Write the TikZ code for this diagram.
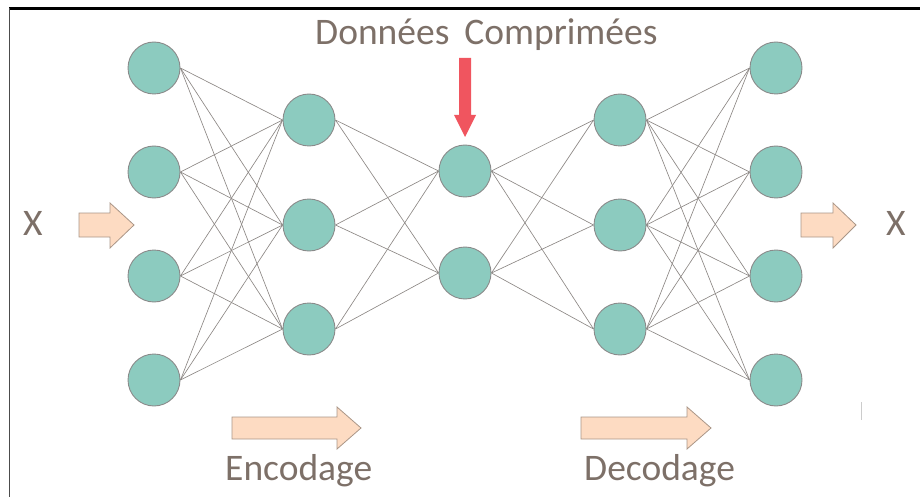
\documentclass[tikz,border=0pt]{standalone}
\usepackage{fontspec}
\setmainfont{Carlito}
\definecolor{neuron}{RGB}{140,203,191}
\definecolor{neuronedge}{RGB}{138,138,138}
\definecolor{wire}{RGB}{140,135,132}
\definecolor{peach}{RGB}{253,219,194}
\definecolor{peachedge}{RGB}{170,150,135}
\definecolor{alert}{RGB}{240,85,95}
\definecolor{label}{RGB}{125,112,104}
\pgfdeclarelayer{wires}
\pgfsetlayers{wires,main}
\tikzset{
  neuronnode/.style={circle, minimum size=52pt, inner sep=0pt, fill=neuron, draw=neuronedge, line width=0.9pt},
  weight/.style={draw=wire, line width=0.65pt},
  flowarrow/.style={fill=peach, draw=peachedge, line width=0.8pt, line join=miter},
  caption/.style={text=label, font=\fontsize{37.5}{42}\selectfont, inner sep=0pt, anchor=base west}
}
\begin{document}
\begin{tikzpicture}[x=1pt, y=-1pt]
\useasboundingbox (0,0) rectangle (920,497);
% frame lines
\draw[black, line width=3pt] (9,8.5) -- (920,8.5);
\draw[black!70, line width=1.2pt] (9.5,8) -- (9.5,497);
\draw[black!20, line width=0.8pt] (861,402) -- (861,420);

% neurons, layer by layer
\foreach \i/\y in {1/68, 2/172, 3/276, 4/380} {
  \node[neuronnode] (a\i) at (154,\y) {};
  \node[neuronnode] (e\i) at (776,\y) {};
}
\foreach \i/\y in {1/120, 2/225, 3/329} {
  \node[neuronnode] (b\i) at (309,\y) {};
  \node[neuronnode] (d\i) at (620,\y) {};
}
\foreach \i/\y in {1/171, 2/273} {
  \node[neuronnode] (c\i) at (465,\y) {};
}

% fully connected weights, kept behind the neurons
\begin{pgfonlayer}{wires}
\foreach \i in {1,...,4} \foreach \j in {1,...,3} {
  \draw[weight] (a\i.east) -- (b\j.west);
  \draw[weight] (d\j.east) -- (e\i.west);
}
\foreach \i in {1,...,3} \foreach \j in {1,2} {
  \draw[weight] (b\i.east) -- (c\j.west);
  \draw[weight] (c\j.east) -- (d\i.west);
}
\end{pgfonlayer}

% block arrows
\draw[flowarrow] (79,213) -- (110,213) -- (110,203) -- (134,225) -- (110,248) -- (110,237) -- (79,237) -- cycle;
\draw[flowarrow] (801,213) -- (833,213) -- (833,203) -- (856,225) -- (833,248) -- (833,237) -- (801,237) -- cycle;
\draw[flowarrow] (232,417) -- (337,417) -- (337,407) -- (361,428) -- (337,449) -- (337,439) -- (232,439) -- cycle;
\draw[flowarrow] (581,417) -- (687,417) -- (687,407) -- (711,428) -- (687,449) -- (687,439) -- (581,439) -- cycle;

% bottleneck marker
\fill[alert] (459,58) -- (471,58) -- (471,115) -- (476,115) -- (465,137) -- (454,115) -- (459,115) -- cycle;

% labels
\node[caption] (title) at (315,45) {Données\hskip 15pt Comprimées};
\node[caption] (xin) at (23,235) {X};
\node[caption] (xout) at (886,235) {X};
\node[caption] (enc) at (225,480) {Encodage};
\node[caption] (dec) at (584,480) {Decodage};
\end{tikzpicture}
\end{document}
